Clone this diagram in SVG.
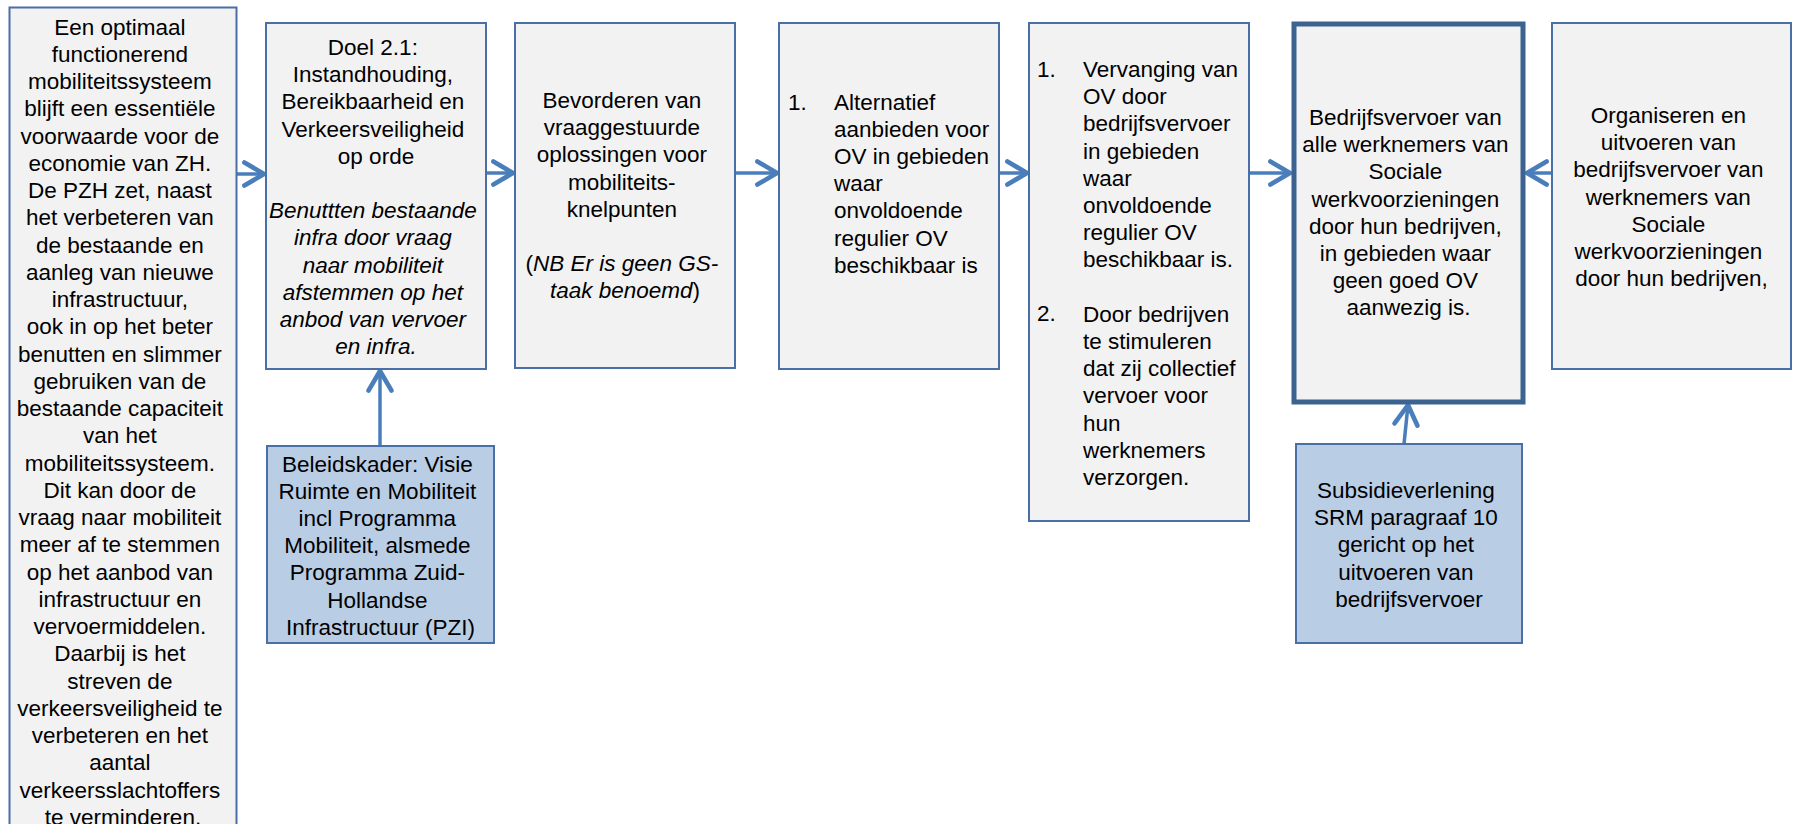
<svg xmlns="http://www.w3.org/2000/svg" width="1797" height="824" viewBox="0 0 1797 824">
<style>
.box{fill:#f2f2f2;stroke:#4a6fa5;stroke-width:2}
.thick{fill:#f2f2f2;stroke:#3c6290;stroke-width:5}
.blue{fill:#b9cde5;stroke:#4a6fa5;stroke-width:2}
text{font-family:"Liberation Sans",Arial,sans-serif;font-size:22.5px;fill:#000}
.c{text-anchor:middle}
.it{font-style:italic}
.conn{stroke:#4a7ebb;stroke-width:3.5;fill:none}
</style>
<defs>
<marker id="arr" markerUnits="userSpaceOnUse" markerWidth="30" markerHeight="30" viewBox="-22 -13 26 26" refX="0" refY="0" orient="auto">
<path d="M-17,-10 L0,0 L-17,10" fill="none" stroke="#4a7ebb" stroke-width="4" stroke-linecap="round" stroke-linejoin="round"/>
</marker>
</defs>
<g id="connectors">
<line class="conn" x1="237" y1="174" x2="264" y2="174" marker-end="url(#arr)"/>
<line class="conn" x1="486" y1="173" x2="513" y2="173" marker-end="url(#arr)"/>
<line class="conn" x1="735" y1="173" x2="777" y2="173" marker-end="url(#arr)"/>
<line class="conn" x1="999" y1="173" x2="1027" y2="173" marker-end="url(#arr)"/>
<line class="conn" x1="1249" y1="173" x2="1290" y2="173" marker-end="url(#arr)"/>
<line class="conn" x1="1552" y1="173" x2="1527" y2="173" marker-end="url(#arr)"/>
<line class="conn" x1="1404" y1="444" x2="1408" y2="405" marker-end="url(#arr)"/>
<line class="conn" x1="380" y1="446" x2="380" y2="371" marker-end="url(#arr)"/>
</g>
<g id="n1">
<rect class="box" x="9.5" y="7.5" width="227" height="840"/>
<text class="c" x="123">
<tspan x="123" y="34.5">Een optimaal</tspan>
<tspan x="123" y="61.8">functionerend</tspan>
<tspan x="123" y="89">mobiliteitssysteem</tspan>
<tspan x="123" y="116.3">blijft een essentiële</tspan>
<tspan x="123" y="143.5">voorwaarde voor de</tspan>
<tspan x="123" y="170.8">economie van ZH.</tspan>
<tspan x="123" y="198">De PZH zet, naast</tspan>
<tspan x="123" y="225.3">het verbeteren van</tspan>
<tspan x="123" y="252.5">de bestaande en</tspan>
<tspan x="123" y="279.8">aanleg van nieuwe</tspan>
<tspan x="123" y="307">infrastructuur,</tspan>
<tspan x="123" y="334.3"> ook in op het beter</tspan>
<tspan x="123" y="361.5">benutten en slimmer</tspan>
<tspan x="123" y="388.8">gebruiken van de</tspan>
<tspan x="123" y="416">bestaande capaciteit</tspan>
<tspan x="123" y="443.3">van het</tspan>
<tspan x="123" y="470.5">mobiliteitssysteem.</tspan>
<tspan x="123" y="497.8">Dit kan door de</tspan>
<tspan x="123" y="525">vraag naar mobiliteit</tspan>
<tspan x="123" y="552.3">meer af te stemmen</tspan>
<tspan x="123" y="579.5">op het aanbod van</tspan>
<tspan x="123" y="606.8">infrastructuur en</tspan>
<tspan x="123" y="634">vervoermiddelen.</tspan>
<tspan x="123" y="661.3">Daarbij is het</tspan>
<tspan x="123" y="688.5">streven de</tspan>
<tspan x="123" y="715.8">verkeersveiligheid te</tspan>
<tspan x="123" y="743">verbeteren en het</tspan>
<tspan x="123" y="770.3">aantal</tspan>
<tspan x="123" y="797.5">verkeersslachtoffers</tspan>
<tspan x="123" y="824.8">te verminderen.</tspan>
</text>
</g>
<g id="n2">
<rect class="box" x="266" y="23" width="220" height="346"/>
<text class="c">
<tspan x="376" y="55">Doel 2.1:</tspan>
<tspan x="376" y="82.2">Instandhouding,</tspan>
<tspan x="376" y="109.4">Bereikbaarheid en</tspan>
<tspan x="376" y="136.6">Verkeersveiligheid</tspan>
<tspan x="376" y="163.8">op orde</tspan>
</text>
<text class="c it">
<tspan x="376" y="218.2">Benuttten bestaande</tspan>
<tspan x="376" y="245.4">infra door vraag</tspan>
<tspan x="376" y="272.6">naar mobiliteit</tspan>
<tspan x="376" y="299.8">afstemmen op het</tspan>
<tspan x="376" y="327">anbod van vervoer</tspan>
<tspan x="376" y="354.2">en infra.</tspan>
</text>
</g>
<g id="n3">
<rect class="box" x="515" y="23" width="220" height="345"/>
<text class="c">
<tspan x="625" y="108">Bevorderen van</tspan>
<tspan x="625" y="135.2">vraaggestuurde</tspan>
<tspan x="625" y="162.4">oplossingen voor</tspan>
<tspan x="625" y="189.6">mobiliteits-</tspan>
<tspan x="625" y="216.8">knelpunten</tspan>
<tspan x="625" y="271.2">(<tspan class="it">NB Er is geen GS-</tspan></tspan>
<tspan x="625" y="298.4"><tspan class="it">taak benoemd</tspan>)</tspan>
</text>
</g>
<g id="n4">
<rect class="box" x="779" y="23" width="220" height="346"/>
<text x="788" y="109.5">1.</text>
<text>
<tspan x="834" y="109.5">Alternatief</tspan>
<tspan x="834" y="136.7">aanbieden voor</tspan>
<tspan x="834" y="163.9">OV in gebieden</tspan>
<tspan x="834" y="191.1">waar</tspan>
<tspan x="834" y="218.3">onvoldoende</tspan>
<tspan x="834" y="245.5">regulier OV</tspan>
<tspan x="834" y="272.7">beschikbaar is</tspan>
</text>
</g>
<g id="n5">
<rect class="box" x="1029" y="23" width="220" height="498"/>
<text x="1037" y="77">1.</text>
<text x="1037" y="321">2.</text>
<text>
<tspan x="1083" y="77">Vervanging van</tspan>
<tspan x="1083" y="104.2">OV door</tspan>
<tspan x="1083" y="131.4">bedrijfsvervoer</tspan>
<tspan x="1083" y="158.6">in gebieden</tspan>
<tspan x="1083" y="185.8">waar</tspan>
<tspan x="1083" y="213">onvoldoende</tspan>
<tspan x="1083" y="240.2">regulier OV</tspan>
<tspan x="1083" y="267.4">beschikbaar is.</tspan>
<tspan x="1083" y="321.8">Door bedrijven</tspan>
<tspan x="1083" y="349">te stimuleren</tspan>
<tspan x="1083" y="376.2">dat zij collectief</tspan>
<tspan x="1083" y="403.4">vervoer voor</tspan>
<tspan x="1083" y="430.6">hun</tspan>
<tspan x="1083" y="457.8">werknemers</tspan>
<tspan x="1083" y="485">verzorgen.</tspan>
</text>
</g>
<g id="n6">
<rect class="thick" x="1294" y="24" width="229" height="378"/>
<text class="c">
<tspan x="1408.5" y="125">Bedrijfsvervoer van</tspan>
<tspan x="1408.5" y="152.2">alle werknemers van</tspan>
<tspan x="1408.5" y="179.4">Sociale</tspan>
<tspan x="1408.5" y="206.6">werkvoorzieningen</tspan>
<tspan x="1408.5" y="233.8">door hun bedrijven,</tspan>
<tspan x="1408.5" y="261">in gebieden waar</tspan>
<tspan x="1408.5" y="288.2">geen goed OV</tspan>
<tspan x="1408.5" y="315.4">aanwezig is.</tspan>
</text>
</g>
<g id="n7">
<rect class="box" x="1552" y="23" width="239" height="346"/>
<text class="c">
<tspan x="1671.5" y="123">Organiseren en</tspan>
<tspan x="1671.5" y="150.2">uitvoeren van</tspan>
<tspan x="1671.5" y="177.4">bedrijfsvervoer van</tspan>
<tspan x="1671.5" y="204.6">werknemers van</tspan>
<tspan x="1671.5" y="231.8">Sociale</tspan>
<tspan x="1671.5" y="259">werkvoorzieningen</tspan>
<tspan x="1671.5" y="286.2">door hun bedrijven,</tspan>
</text>
</g>
<g id="n8">
<rect class="blue" x="267" y="446" width="227" height="197"/>
<text class="c">
<tspan x="380.5" y="471.5">Beleidskader: Visie</tspan>
<tspan x="380.5" y="498.7">Ruimte en Mobiliteit</tspan>
<tspan x="380.5" y="525.9">incl Programma</tspan>
<tspan x="380.5" y="553.1">Mobiliteit, alsmede</tspan>
<tspan x="380.5" y="580.3">Programma Zuid-</tspan>
<tspan x="380.5" y="607.5">Hollandse</tspan>
<tspan x="380.5" y="634.7">Infrastructuur (PZI)</tspan>
</text>
</g>
<g id="n9">
<rect class="blue" x="1296" y="444" width="226" height="199"/>
<text class="c">
<tspan x="1409" y="498">Subsidieverlening</tspan>
<tspan x="1409" y="525.2">SRM paragraaf 10</tspan>
<tspan x="1409" y="552.4">gericht op het</tspan>
<tspan x="1409" y="579.6">uitvoeren van</tspan>
<tspan x="1409" y="606.8">bedrijfsvervoer</tspan>
</text>
</g>
</svg>
